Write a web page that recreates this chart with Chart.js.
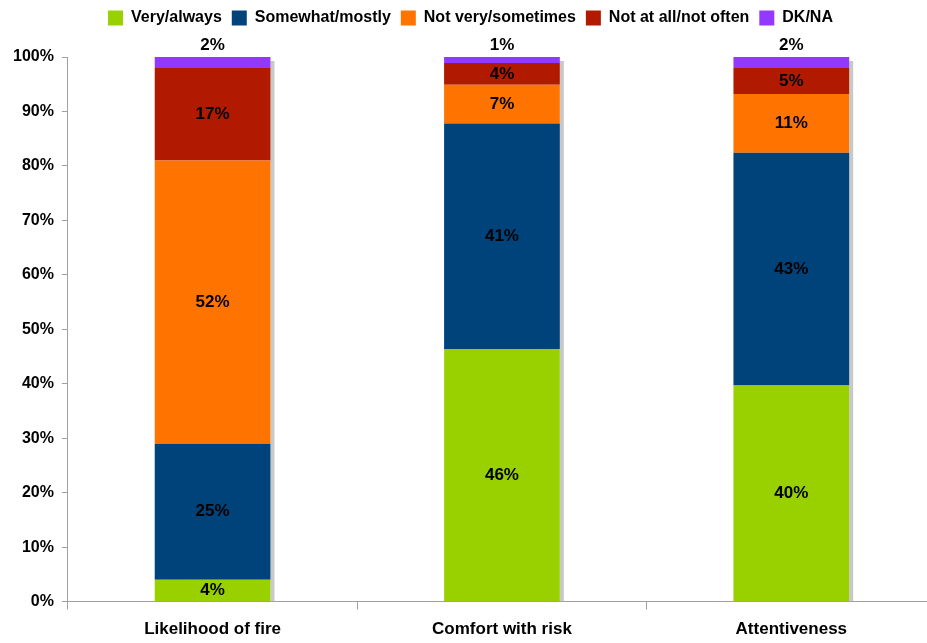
<!DOCTYPE html>
<html>
<head>
<meta charset="utf-8">
<script src="https://cdn.jsdelivr.net/npm/chart.js@4"></script>
<style>
  html, body { margin: 0; padding: 0; background: #fff; overflow: hidden; }
  #wrap { width: 940px; height: 653px; }
</style>
</head>
<body>
<div id="wrap"><canvas id="chart"></canvas></div>
<script>
// Categories and series (percent of respondents)
const categories = ['Likelihood of fire', 'Comfort with risk', 'Attentiveness'];
const seriesNames = ['Very/always', 'Somewhat/mostly', 'Not very/sometimes', 'Not at all/not often', 'DK/NA'];
const veryAlways = [4, 46.4, 39.7];
const somewhatMostly = [25, 41.4, 42.7];
const notVerySometimes = [52, 7.1, 10.8];
const notAtAll = [17, 4.0, 4.8];
const dkNa = [2, 1.1, 2.0];
const yTicks = [0, 10, 20, 30, 40, 50, 60, 70, 80, 90, 100];

const colors = ['#99d100', '#00427a', '#ff7400', '#b21a00', '#9238ff'];
const FONT = "'Liberation Sans', Arial, sans-serif";

// extra room under the legend
const legendGap = {
    id: 'legendGap',
    beforeInit(chart) {
        const fit = chart.legend.fit;
        chart.legend.fit = function () {
            fit.call(this);
            this.height += 21;
        };
    }
};

// grey drop shadow to the right of each stacked bar
const shadowPlugin = {
    id: 'barShadow',
    beforeDatasetsDraw(chart) {
        const ctx = chart.ctx;
        const first = chart.getDatasetMeta(0).data;
        const last = chart.getDatasetMeta(chart.data.datasets.length - 1).data;
        ctx.save();
        ctx.fillStyle = '#c8c8c8';
        first.forEach((bar, i) => {
            const top = last[i].y;
            const right = bar.x + bar.width / 2;
            ctx.fillRect(right, top + 4, 4, bar.base - top - 4);
        });
        ctx.restore();
    }
};

// percentage labels in each segment, top series above the bar
const labelPlugin = {
    id: 'segLabels',
    afterDatasetsDraw(chart) {
        const ctx = chart.ctx;
        ctx.save();
        ctx.font = 'bold 17px ' + FONT;
        ctx.fillStyle = '#000';
        ctx.textAlign = 'center';
        ctx.textBaseline = 'middle';
        const n = chart.data.datasets.length;
        chart.data.datasets.forEach((ds, di) => {
            chart.getDatasetMeta(di).data.forEach((bar, i) => {
                const text = Math.round(ds.data[i]) + '%';
                let y = (bar.y + bar.base) / 2;
                if (di === n - 1) y = bar.y - 12;
                ctx.fillText(text, bar.x, y);
            });
        });
        ctx.restore();
    }
};

const seriesData = [veryAlways, somewhatMostly, notVerySometimes, notAtAll, dkNa];

new Chart(document.getElementById('chart'), {
    type: 'bar',
    data: {
        labels: categories,
        datasets: seriesNames.map((name, i) => ({
            label: name,
            data: seriesData[i],
            backgroundColor: colors[i],
            borderWidth: 0,
            categoryPercentage: 1,
            barPercentage: 0.4
        }))
    },
    options: {
        responsive: true,
        maintainAspectRatio: false,
        animation: false,
        layout: { padding: { top: 0, right: 4, bottom: 3, left: 5 } },
        scales: {
            x: {
                stacked: true,
                border: { display: true, color: '#a0a0a0', width: 1 },
                grid: { display: true, offset: true, drawOnChartArea: false, drawTicks: true, tickLength: 8, color: '#a0a0a0' },
                ticks: { color: '#000', font: { family: FONT, size: 17, weight: 'bold' }, padding: 10, maxRotation: 0 }
            },
            y: {
                stacked: true,
                min: 0,
                max: 100,
                afterBuildTicks(axis) { axis.ticks = yTicks.map(v => ({ value: v })); },
                border: { display: true, color: '#a0a0a0', width: 1 },
                grid: { display: true, drawOnChartArea: false, drawTicks: true, tickLength: 6, color: '#a0a0a0' },
                ticks: {
                    color: '#000',
                    font: { family: FONT, size: 16, weight: 'bold' },
                    padding: 8,
                    callback: v => v + '%'
                }
            }
        },
        plugins: {
            legend: {
                display: true,
                position: 'top',
                labels: {
                    color: '#000',
                    font: { family: FONT, size: 16, weight: 'bold' },
                    boxWidth: 15,
                    boxHeight: 15,
                    padding: 10
                }
            },
            tooltip: { enabled: false }
        }
    },
    plugins: [legendGap, shadowPlugin, labelPlugin]
});
</script>
</body>
</html>
